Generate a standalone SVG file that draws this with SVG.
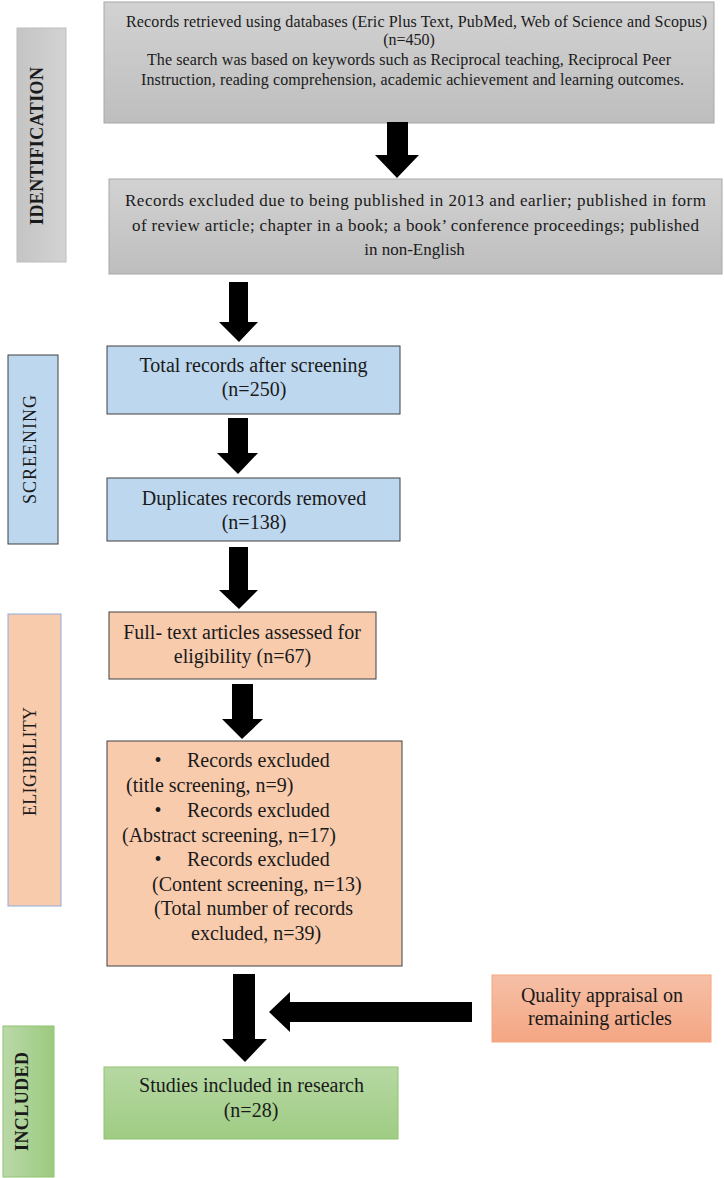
<svg xmlns="http://www.w3.org/2000/svg" width="724" height="1178" viewBox="0 0 724 1178">
<style>
text{font-family:"Liberation Serif","Times New Roman",serif;fill:#1a1a1a}
.t15{font-size:16px}
.t16{font-size:17px}
.t20{font-size:20px}
.lbl{font-size:18px}
.b{font-weight:bold}
.gray{fill:url(#gGray);stroke:#a8a8a8;stroke-width:1}
.blue{fill:#bdd7ee;stroke:#404040;stroke-width:1}
.peach{fill:#f8cbad;stroke:#404040;stroke-width:1}
.arrow{fill:#000}
</style>
<defs>
<linearGradient id="gGray" x1="0" y1="0" x2="0" y2="1">
<stop offset="0" stop-color="#d2d2d2"/><stop offset="1" stop-color="#bebebe"/>
</linearGradient>
<linearGradient id="gGrayH" x1="0" y1="0" x2="1" y2="0">
<stop offset="0" stop-color="#c4c4c4"/><stop offset="1" stop-color="#d3d3d3"/>
</linearGradient>
<linearGradient id="gOrange" x1="0" y1="0" x2="0" y2="1">
<stop offset="0" stop-color="#f6c0a6"/><stop offset="1" stop-color="#f4a684"/>
</linearGradient>
<linearGradient id="gGreen" x1="0" y1="0" x2="0" y2="1">
<stop offset="0" stop-color="#b6d8a3"/><stop offset="1" stop-color="#9fcc83"/>
</linearGradient>
<linearGradient id="gGreenH" x1="0" y1="0" x2="1" y2="0">
<stop offset="0" stop-color="#bad9a8"/><stop offset="1" stop-color="#9bca7f"/>
</linearGradient>
</defs>

<g id="label-identification">
<rect x="17" y="28" width="49" height="234" fill="url(#gGrayH)" stroke="#bdbdbd" stroke-width="1"/>
<text class="lbl b" text-anchor="middle" textLength="158" transform="translate(43,146) rotate(-90)">IDENTIFICATION</text>
</g>
<g id="label-screening">
<rect x="8" y="355" width="50" height="189" class="blue"/>
<text class="lbl" text-anchor="middle" textLength="109" transform="translate(36,449.5) rotate(-90)">SCREENING</text>
</g>
<g id="label-eligibility">
<rect x="8" y="614" width="53" height="292" fill="#f8cbad" stroke="#8faadc" stroke-width="1"/>
<text class="lbl" text-anchor="middle" textLength="109" transform="translate(36,761.5) rotate(-90)">ELIGIBILITY</text>
</g>
<g id="label-included">
<rect x="3" y="1026" width="51" height="151" fill="url(#gGreenH)" stroke="#8fc46f" stroke-width="1"/>
<text class="lbl b" text-anchor="middle" textLength="99" transform="translate(28,1101.5) rotate(-90)">INCLUDED</text>
</g>

<g id="node-records-retrieved">
<rect x="104" y="2" width="610" height="121" class="gray"/>
<text class="t15" x="416.5" y="27" text-anchor="middle" textLength="581">Records retrieved using databases (Eric Plus Text, PubMed, Web of Science and Scopus)</text>
<text class="t15" x="409" y="45" text-anchor="middle">(n=450)</text>
<text class="t15" x="409" y="65" text-anchor="middle" textLength="524">The search was based on keywords such as Reciprocal teaching, Reciprocal Peer</text>
<text class="t15" x="412.5" y="85" text-anchor="middle" textLength="543">Instruction, reading comprehension, academic achievement and learning outcomes.</text>
</g>
<g id="node-records-excluded-date">
<rect x="109" y="179" width="613" height="95" class="gray"/>
<text class="t16" x="415.5" y="206" text-anchor="middle" textLength="581">Records excluded due to being published in 2013 and earlier; published in form</text>
<text class="t16" x="415.5" y="231" text-anchor="middle" textLength="567">of review article; chapter in a book; a book’ conference proceedings; published</text>
<text class="t16" x="414.5" y="255" text-anchor="middle">in non-English</text>
</g>
<g id="node-total-after-screening">
<rect x="107" y="346" width="293" height="68" class="blue"/>
<text class="t20" x="253.5" y="372" text-anchor="middle">Total records after screening</text>
<text class="t20" x="254" y="396" text-anchor="middle">(n=250)</text>
</g>
<g id="node-duplicates">
<rect x="107" y="478" width="293" height="63" class="blue"/>
<text class="t20" x="254" y="505" text-anchor="middle">Duplicates records removed</text>
<text class="t20" x="254" y="529" text-anchor="middle">(n=138)</text>
</g>
<g id="node-full-text">
<rect x="109" y="612" width="267" height="67" class="peach"/>
<text class="t20" x="242" y="639" text-anchor="middle">Full- text articles assessed for</text>
<text class="t20" x="242.5" y="663" text-anchor="middle">eligibility (n=67)</text>
</g>
<g id="node-records-excluded-screening">
<rect x="107" y="741" width="295" height="225" class="peach"/>
<text class="t20" x="158" y="767" text-anchor="middle">•</text>
<text class="t20" x="187" y="767">Records excluded</text>
<text class="t20" x="126" y="792">(title screening, n=9)</text>
<text class="t20" x="158" y="817" text-anchor="middle">•</text>
<text class="t20" x="187" y="817">Records excluded</text>
<text class="t20" x="122" y="842">(Abstract screening, n=17)</text>
<text class="t20" x="158" y="866" text-anchor="middle">•</text>
<text class="t20" x="187" y="866">Records excluded</text>
<text class="t20" x="152" y="891">(Content screening, n=13)</text>
<text class="t20" x="154" y="915">(Total number of records</text>
<text class="t20" x="191" y="940">excluded, n=39)</text>
</g>
<g id="node-quality-appraisal">
<rect x="492" y="975" width="219" height="67" fill="url(#gOrange)" stroke="#f5a67c" stroke-width="1"/>
<text class="t20" x="602" y="1002" text-anchor="middle">Quality appraisal on</text>
<text class="t20" x="600" y="1025" text-anchor="middle">remaining articles</text>
</g>
<g id="node-studies-included">
<rect x="104" y="1067" width="294" height="72" fill="url(#gGreen)" stroke="#8fc46f" stroke-width="1"/>
<text class="t20" x="251.5" y="1092" text-anchor="middle">Studies included in research</text>
<text class="t20" x="251" y="1117" text-anchor="middle">(n=28)</text>
</g>

<g id="connectors">
<polygon class="arrow" points="387,122 408,122 408,155 419,155 397,178 375,155 387,155"/>
<polygon class="arrow" points="229,282 248,282 248,322 258,322 239,342 219,322 229,322"/>
<polygon class="arrow" points="228,418 248,418 248,453 258,453 238,474 217,453 228,453"/>
<polygon class="arrow" points="229,547 248,547 248,590 258,590 239,609 219,590 229,590"/>
<polygon class="arrow" points="232,684 253,684 253,719 263,719 242,739 222,719 232,719"/>
<polygon class="arrow" points="233,974 255,974 255,1039 267,1039 245,1062 222,1039 233,1039"/>
<polygon class="arrow" points="472,1002 472,1022 290,1022 290,1032 269,1012 290,992 290,1002"/>
</g>
</svg>
